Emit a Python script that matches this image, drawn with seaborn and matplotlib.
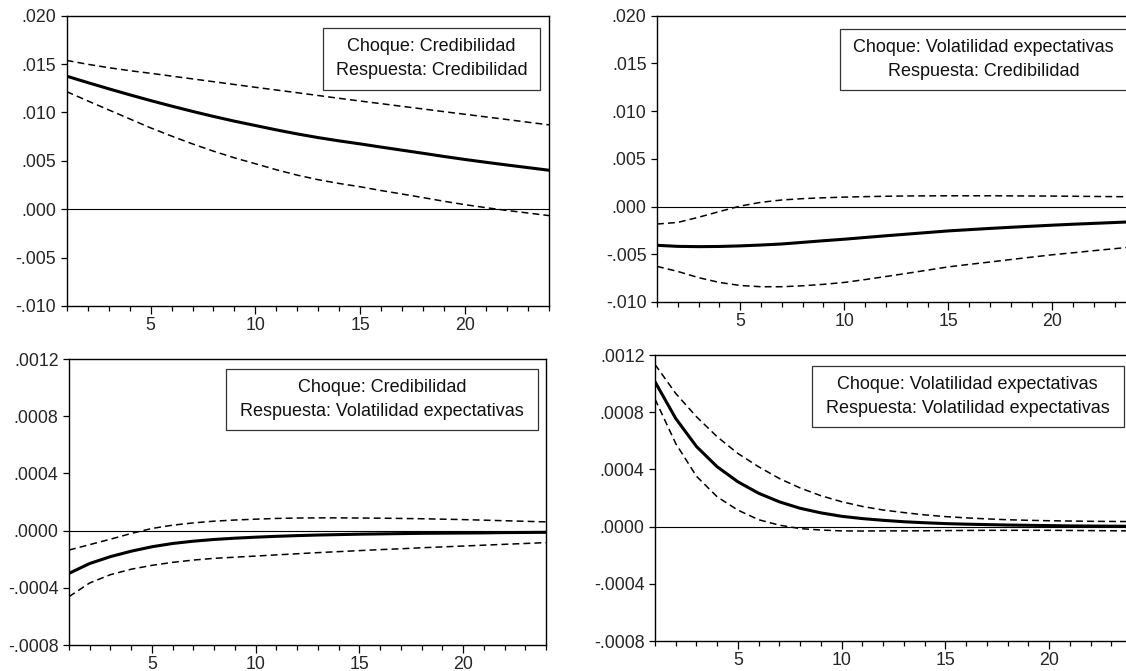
import numpy as np
import pandas as pd
import matplotlib
matplotlib.use("Agg")
import matplotlib.pyplot as plt
from matplotlib.patches import Rectangle
from matplotlib.ticker import FixedLocator, FuncFormatter
import seaborn as sns

periodos = list(range(1, 25))

# Choque: Credibilidad / Respuesta: Credibilidad  (x 1e-3)
cc_resp = [13.75, 13.09, 12.45, 11.83, 11.23, 10.66, 10.11, 9.59, 9.10, 8.65, 8.20, 7.78,
           7.40, 7.06, 6.75, 6.42, 6.10, 5.78, 5.45, 5.14, 4.85, 4.57, 4.30, 4.03]
cc_sup = [15.38, 14.98, 14.63, 14.32, 14.05, 13.76, 13.47, 13.18, 12.89, 12.60, 12.32, 12.04,
          11.75, 11.46, 11.18, 10.91, 10.63, 10.36, 10.08, 9.81, 9.54, 9.27, 8.99, 8.72]
cc_inf = [12.15, 11.20, 10.27, 9.34, 8.41, 7.56, 6.75, 6.00, 5.31, 4.70, 4.08, 3.52,
          3.05, 2.66, 2.32, 1.93, 1.57, 1.20, 0.82, 0.47, 0.16, -0.13, -0.39, -0.66]

# Choque: Volatilidad expectativas / Respuesta: Credibilidad  (x 1e-3)
vc_resp = [-4.06, -4.17, -4.20, -4.18, -4.12, -4.03, -3.92, -3.75, -3.58, -3.42, -3.24, -3.06,
           -2.89, -2.72, -2.55, -2.42, -2.29, -2.17, -2.06, -1.95, -1.85, -1.76, -1.67, -1.58]
vc_sup = [-1.83, -1.66, -1.12, -0.52, 0.05, 0.45, 0.69, 0.83, 0.92, 0.99, 1.04, 1.08,
          1.11, 1.12, 1.13, 1.13, 1.13, 1.12, 1.11, 1.10, 1.08, 1.06, 1.04, 1.02]
vc_inf = [-6.27, -6.80, -7.45, -7.95, -8.27, -8.40, -8.40, -8.30, -8.15, -7.95, -7.65, -7.33,
          -7.00, -6.66, -6.32, -6.06, -5.81, -5.55, -5.30, -5.05, -4.84, -4.62, -4.41, -4.20]

# Choque: Credibilidad / Respuesta: Volatilidad expectativas  (x 1e-4)
cv_resp = [-2.99, -2.30, -1.82, -1.44, -1.13, -0.90, -0.74, -0.62, -0.53, -0.46, -0.40, -0.35,
           -0.31, -0.28, -0.25, -0.23, -0.21, -0.19, -0.18, -0.17, -0.16, -0.14, -0.13, -0.12]
cv_sup = [-1.36, -0.98, -0.60, -0.20, 0.15, 0.38, 0.54, 0.66, 0.74, 0.80, 0.85, 0.88,
          0.89, 0.89, 0.88, 0.87, 0.85, 0.83, 0.80, 0.77, 0.73, 0.69, 0.65, 0.61]
cv_inf = [-4.62, -3.66, -3.08, -2.70, -2.43, -2.22, -2.06, -1.94, -1.86, -1.78, -1.70, -1.62,
          -1.54, -1.47, -1.40, -1.33, -1.27, -1.20, -1.14, -1.08, -1.02, -0.96, -0.90, -0.84]

# Choque: Volatilidad expectativas / Respuesta: Volatilidad expectativas  (x 1e-4)
vv_resp = [10.13, 7.56, 5.60, 4.18, 3.13, 2.33, 1.73, 1.28, 0.96, 0.72, 0.56, 0.44,
           0.34, 0.27, 0.21, 0.17, 0.14, 0.11, 0.09, 0.07, 0.05, 0.04, 0.03, 0.02]
vv_sup = [11.34, 9.31, 7.68, 6.28, 5.11, 4.18, 3.36, 2.70, 2.16, 1.74, 1.41, 1.16,
          0.98, 0.82, 0.70, 0.61, 0.54, 0.48, 0.44, 0.41, 0.39, 0.37, 0.36, 0.35]
vv_inf = [8.92, 5.81, 3.52, 2.08, 1.15, 0.48, 0.10, -0.14, -0.24, -0.30, -0.31, -0.30,
          -0.30, -0.29, -0.28, -0.27, -0.26, -0.26, -0.26, -0.26, -0.27, -0.28, -0.29, -0.30]

titulos = [
    ("Choque: Credibilidad", "Respuesta: Credibilidad"),
    ("Choque: Volatilidad expectativas", "Respuesta: Credibilidad"),
    ("Choque: Credibilidad", "Respuesta: Volatilidad expectativas"),
    ("Choque: Volatilidad expectativas", "Respuesta: Volatilidad expectativas"),
]

sns.set_style("ticks")
plt.rcParams["font.family"] = ["Liberation Sans", "DejaVu Sans"]
FS_TICK = 12.8
FS_CAP = 13.0

W, H = 1126, 671
fig = plt.figure(figsize=(W / 100, H / 100), dpi=100)
fig.patch.set_facecolor("white")


def fmt(dec):
    def f(v, _):
        s = f"{v:.{dec}f}"
        s = s.replace("-0.", "-.")
        if s.startswith("0."):
            s = s[1:]
        return s
    return FuncFormatter(f)


# each panel: axes box (px: left, right, top, bottom), series, scale, y ticks, decimals, caption box px
paneles = [
    dict(box=(66.7, 549, 15.7, 306), data=(cc_resp, cc_sup, cc_inf), esc=1e-3,
         yt=[-0.010, -0.005, 0.0, 0.005, 0.010, 0.015, 0.020], dec=3,
         ley=(323, 540, 27.5, 89.5)),
    dict(box=(657, 1135.6, 15.7, 302), data=(vc_resp, vc_sup, vc_inf), esc=1e-3,
         yt=[-0.010, -0.005, 0.0, 0.005, 0.010, 0.015, 0.020], dec=3,
         ley=(840, 1127, 29, 90)),
    dict(box=(69, 546, 359, 645), data=(cv_resp, cv_sup, cv_inf), esc=1e-4,
         yt=[-0.0008, -0.0004, 0.0, 0.0004, 0.0008, 0.0012], dec=4,
         ley=(226, 538, 369, 430)),
    dict(box=(655, 1132, 355, 641), data=(vv_resp, vv_sup, vv_inf), esc=1e-4,
         yt=[-0.0008, -0.0004, 0.0, 0.0004, 0.0008, 0.0012], dec=4,
         ley=(811.5, 1124, 366, 427)),
]

for p, (t1, t2) in zip(paneles, titulos):
    l, r, t, b = p["box"]
    ax = fig.add_axes([l / W, 1 - b / H, (r - l) / W, (b - t) / H])
    resp, sup, inf = p["data"]
    df = pd.DataFrame({
        "periodo": periodos * 3,
        "valor": np.concatenate([resp, sup, inf]) * p["esc"],
        "serie": ["resp"] * 24 + ["sup"] * 24 + ["inf"] * 24,
    })
    ax.axhline(0, color="black", lw=0.8, zorder=1)
    sns.lineplot(data=df, x="periodo", y="valor", style="serie", size="serie",
                 dashes={"resp": "", "sup": (4.5, 2.7), "inf": (4.5, 2.7)},
                 sizes={"resp": 2.2, "sup": 1.1, "inf": 1.1},
                 color="black", legend=False, estimator=None, ax=ax, zorder=3)
    ax.set_xlim(1, 24)
    ax.set_ylim(p["yt"][0], p["yt"][-1])
    ax.set_xlabel("")
    ax.set_ylabel("")
    ax.yaxis.set_major_locator(FixedLocator(p["yt"]))
    ax.yaxis.set_major_formatter(fmt(p["dec"]))
    ax.xaxis.set_major_locator(FixedLocator([5, 10, 15, 20]))
    ax.xaxis.set_minor_locator(FixedLocator(periodos))
    ax.tick_params(axis="x", which="major", direction="out", length=5.5, width=0.9,
                   color="black", labelsize=FS_TICK, pad=2.5)
    ax.tick_params(axis="x", which="minor", direction="out", length=3.5, width=0.9,
                   color="black")
    ax.tick_params(axis="y", which="major", direction="out", length=4.5, width=0.9,
                   color="black", labelsize=FS_TICK, pad=3)
    for s in ax.spines.values():
        s.set_visible(True)
        s.set_color("black")
        s.set_linewidth(1.0)

    # caption box inside the panel
    bl, br, bt, bb = p["ley"]
    fx0 = (bl - l) / (r - l)
    fx1 = (br - l) / (r - l)
    fy0 = (b - bb) / (b - t)
    fy1 = (b - bt) / (b - t)
    ax.add_patch(Rectangle((fx0, fy0), fx1 - fx0, fy1 - fy0, transform=ax.transAxes,
                           facecolor="white", edgecolor="#333333", lw=0.9, zorder=5))
    cx = (fx0 + fx1) / 2
    ax.text(cx, fy0 + (fy1 - fy0) * 0.70, t1, transform=ax.transAxes, ha="center",
            va="center", fontsize=FS_CAP, color="#111111", zorder=6)
    ax.text(cx, fy0 + (fy1 - fy0) * 0.31, t2, transform=ax.transAxes, ha="center",
            va="center", fontsize=FS_CAP, color="#111111", zorder=6)

fig.savefig("out.png", dpi=100, facecolor="white")
